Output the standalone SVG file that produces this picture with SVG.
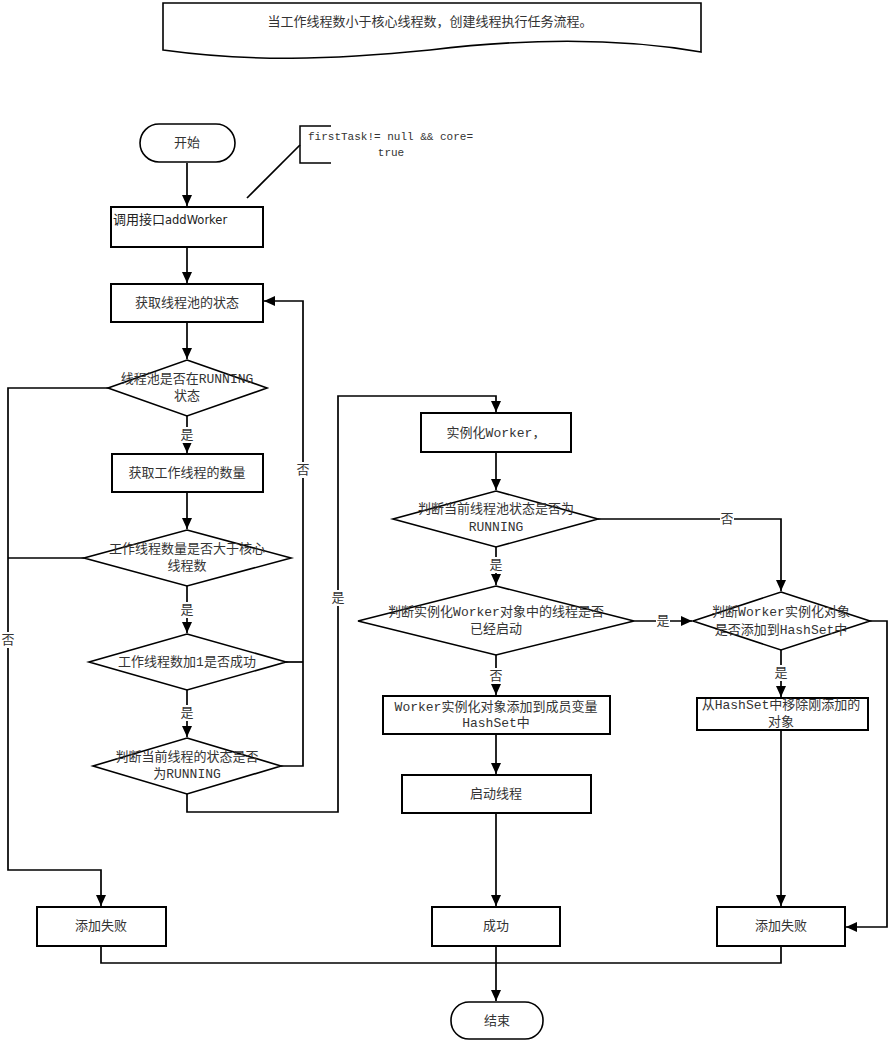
<svg xmlns="http://www.w3.org/2000/svg" width="889" height="1041" viewBox="0 0 889 1041">
<defs>
<marker id="arr" markerUnits="userSpaceOnUse" markerWidth="12" markerHeight="10" refX="11" refY="5" orient="auto">
<path d="M0,0 L11,5 L0,10 z" fill="#000"/>
</marker>
<style>
.box{fill:#fff;stroke:#000;stroke-width:2}
.dia{fill:#fff;stroke:#000;stroke-width:1.6}
.term{fill:#fff;stroke:#000;stroke-width:1.6}
.t{font-family:"Liberation Mono","Noto Sans CJK SC",monospace;font-size:13px;fill:#333;text-anchor:middle;dominant-baseline:central}
.ts{font-family:"Noto Sans CJK SC",sans-serif;font-size:13px;fill:#222}
.c{fill:none;stroke:#000;stroke-width:1.7}
.a{marker-end:url(#arr)}
.lbl{fill:#fff}
</style>
</defs>

<g id="banner">
<path d="M163,3 H701 V52 C620,38 530,38 430,50 C330,60 250,62 163,50 Z" fill="#fff" stroke="#000" stroke-width="1.6"/>
<text class="t" x="430" y="22">当工作线程数小于核心线程数，创建线程执行任务流程。</text>
</g>

<g id="connectors">
<path class="c a" d="M187,163 V206"/>
<path class="c a" d="M187,247 V283"/>
<path class="c a" d="M187,322 V359"/>
<path class="c a" d="M187,416 V453"/>
<path class="c a" d="M187,492 V529"/>
<path class="c a" d="M187,586 V633"/>
<path class="c a" d="M187,690 V737"/>
<path class="c a" d="M108,388 H8 V870 H101 V906"/>
<path class="c" d="M84,558 H8"/>
<path class="c" d="M286,662 H303"/>
<path class="c a" d="M281,766 H303 V301 H264"/>
<path class="c a" d="M187,794 V812 H338 V396 H496 V412"/>
<path class="c a" d="M496,452 V490"/>
<path class="c a" d="M496,547 V585"/>
<path class="c a" d="M496,655 V695"/>
<path class="c a" d="M496,734 V774"/>
<path class="c a" d="M496,813 V906"/>
<path class="c a" d="M496,946 V1001"/>
<path class="c a" d="M598,519 H781 V591"/>
<path class="c a" d="M634,621 H692"/>
<path class="c a" d="M781,650 V697"/>
<path class="c a" d="M781,730 V906"/>
<path class="c a" d="M870,621 H887 V927 H846"/>
<path class="c" d="M101,946 V963 H781 V946"/>
<path class="c" d="M300,145 L247,198"/>
<path d="M331,126 H300 V163 H331" fill="none" stroke="#000" stroke-width="1.5"/>
</g>

<g id="labels">
<rect class="lbl" x="180" y="427" width="14" height="16"/><text class="t" x="187" y="435">是</text>
<rect class="lbl" x="180" y="602" width="14" height="16"/><text class="t" x="187" y="610">是</text>
<rect class="lbl" x="180" y="705" width="14" height="16"/><text class="t" x="187" y="713">是</text>
<rect class="lbl" x="296" y="462" width="14" height="16"/><text class="t" x="303" y="470">否</text>
<rect class="lbl" x="331" y="590" width="14" height="16"/><text class="t" x="338" y="598">是</text>
<rect class="lbl" x="1" y="632" width="14" height="16"/><text class="t" x="8" y="640">否</text>
<rect class="lbl" x="720" y="511" width="14" height="16"/><text class="t" x="727" y="519">否</text>
<rect class="lbl" x="656" y="613" width="14" height="16"/><text class="t" x="663" y="621">是</text>
<rect class="lbl" x="489" y="557" width="14" height="16"/><text class="t" x="496" y="565">是</text>
<rect class="lbl" x="489" y="668" width="14" height="16"/><text class="t" x="496" y="676">否</text>
<rect class="lbl" x="774" y="665" width="14" height="16"/><text class="t" x="781" y="673">是</text>
</g>

<g id="note">
<text x="308" y="140" font-family="Liberation Mono, monospace" font-size="11" fill="#333">firstTask!= null &amp;&amp; core=</text>
<text x="391" y="156" font-family="Liberation Mono, monospace" font-size="11" fill="#333" text-anchor="middle">true</text>
</g>

<g id="start">
<rect class="term" x="140" y="124" width="95" height="38" rx="19"/>
<text class="t" x="187" y="143">开始</text>
</g>

<g id="addWorker">
<rect class="box" x="111" y="207" width="152" height="40"/>
<text class="ts" x="113" y="224">调用接口<tspan font-family="DejaVu Sans, sans-serif" font-size="11.5">addWorker</tspan></text>
</g>

<g id="getState">
<rect class="box" x="111" y="284" width="152" height="38"/>
<text class="t" x="187" y="303">获取线程池的状态</text>
</g>

<g id="d1">
<polygon class="dia" points="187,360 267,388 187,416 108,388"/>
<text class="t" x="187" y="379">线程池是否在RUNNING</text>
<text class="t" x="187" y="396">状态</text>
</g>

<g id="getCount">
<rect class="box" x="112" y="454" width="151" height="38"/>
<text class="t" x="187" y="473">获取工作线程的数量</text>
</g>

<g id="d2">
<polygon class="dia" points="187,530 291,558 187,586 84,558"/>
<text class="t" x="187" y="549">工作线程数量是否大于核心</text>
<text class="t" x="187" y="566">线程数</text>
</g>

<g id="d3">
<polygon class="dia" points="187,634 286,662 187,690 89,662"/>
<text class="t" x="187" y="662">工作线程数加1是否成功</text>
</g>

<g id="d4">
<polygon class="dia" points="187,738 281,766 187,794 93,766"/>
<text class="t" x="187" y="757">判断当前线程的状态是否</text>
<text class="t" x="187" y="774">为RUNNING</text>
</g>

<g id="newWorker">
<rect class="box" x="421" y="413" width="150" height="39"/>
<text class="t" x="496" y="433">实例化Worker，</text>
</g>

<g id="d5">
<polygon class="dia" points="496,491 598,519 496,547 393,519"/>
<text class="t" x="496" y="509">判断当前线程池状态是否为</text>
<text class="t" x="496" y="527">RUNNING</text>
</g>

<g id="d6">
<polygon class="dia" points="496,586 634,621 496,655 358,621"/>
<text class="t" x="496" y="612">判断实例化Worker对象中的线程是否</text>
<text class="t" x="496" y="629">已经启动</text>
</g>

<g id="d7">
<polygon class="dia" points="781,592 870,621 781,650 693,621"/>
<text class="t" x="781" y="612">判断Worker实例化对象</text>
<text class="t" x="781" y="630">是否添加到HashSet中</text>
</g>

<g id="addSet">
<rect class="box" x="383" y="696" width="227" height="38"/>
<text class="t" x="496" y="707">Worker实例化对象添加到成员变量</text>
<text class="t" x="496" y="723">HashSet中</text>
</g>

<g id="removeSet">
<rect class="box" x="697" y="698" width="171" height="32"/>
<text class="t" x="781" y="705">从HashSet中移除刚添加的</text>
<text class="t" x="781" y="722">对象</text>
</g>

<g id="startThread">
<rect class="box" x="402" y="775" width="189" height="38"/>
<text class="t" x="496" y="794">启动线程</text>
</g>

<g id="fail1">
<rect class="box" x="37" y="907" width="129" height="39"/>
<text class="t" x="101" y="926">添加失败</text>
</g>

<g id="success">
<rect class="box" x="432" y="907" width="128" height="39"/>
<text class="t" x="496" y="926">成功</text>
</g>

<g id="fail2">
<rect class="box" x="717" y="907" width="128" height="39"/>
<text class="t" x="781" y="926">添加失败</text>
</g>

<g id="end">
<rect class="term" x="451" y="1002" width="92" height="37" rx="18"/>
<text class="t" x="497" y="1021">结束</text>
</g>
</svg>
